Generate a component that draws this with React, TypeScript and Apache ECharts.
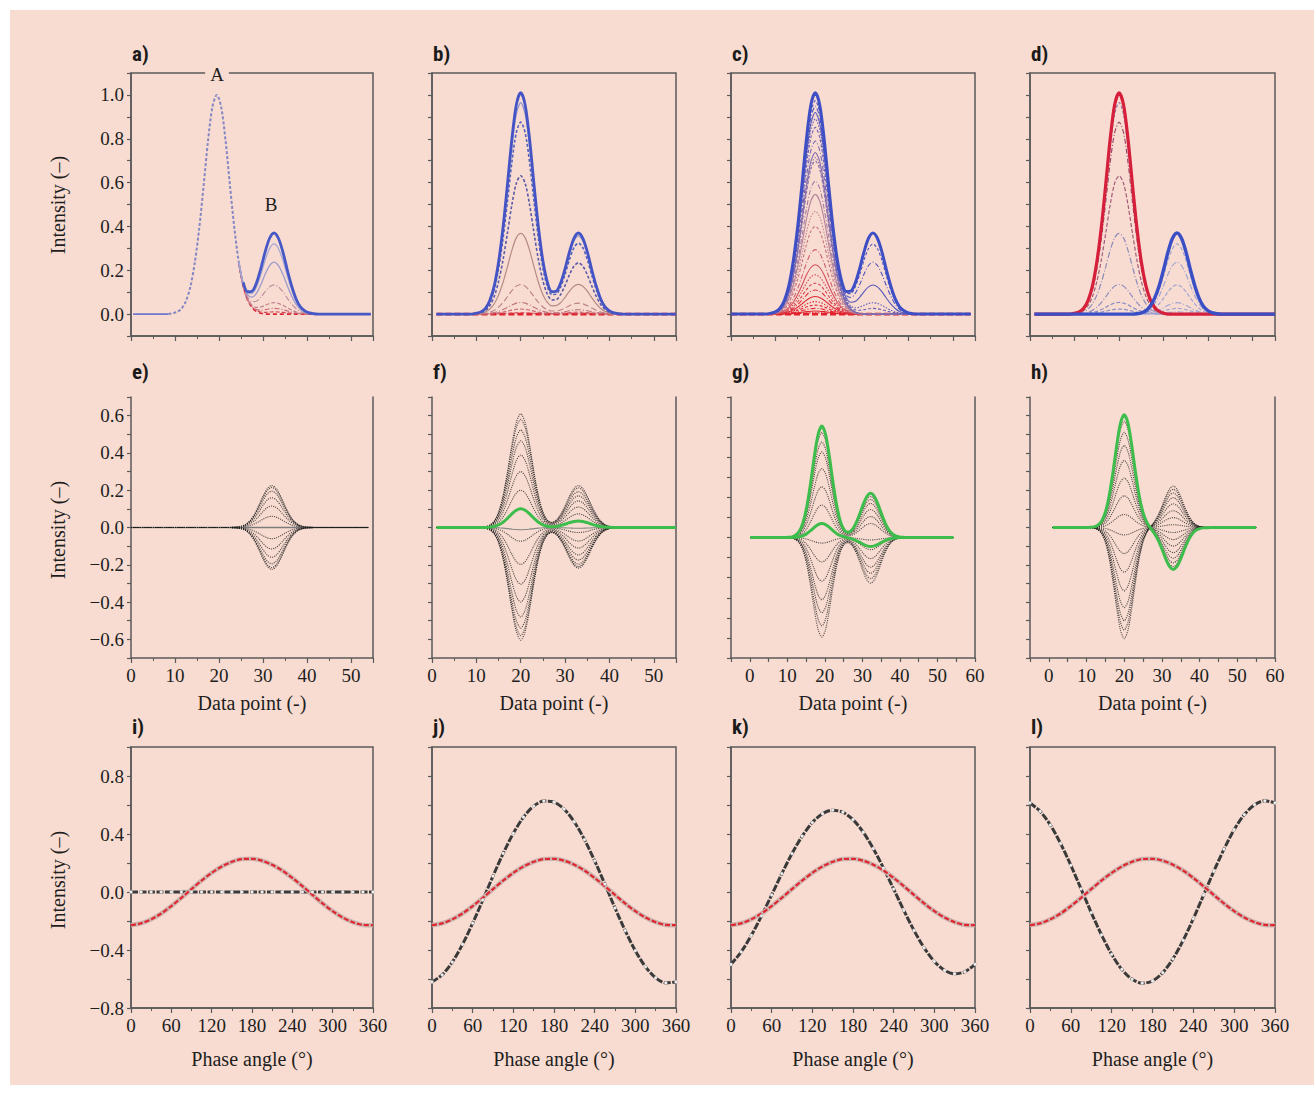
import React, { useEffect, useRef } from "react";
import * as echarts from "echarts";

// ---------------- data ----------------
const DATA_X = [
  1, 2, 3, 4, 5, 6, 7, 8, 9, 10, 11, 12, 13, 14, 15, 16, 17, 18, 19, 20,
  21, 22, 23, 24, 25, 26, 27, 28, 29, 30, 31, 32, 33, 34, 35, 36, 37, 38, 39, 40,
  41, 42, 43, 44, 45, 46, 47, 48, 49, 50, 51, 52, 53, 54, 55,
];
const PHASE = [0, 15, 30, 45, 60, 75, 90, 105, 120, 135, 150, 165, 180, 195, 210, 225, 240, 255, 270, 285, 300, 315, 330, 345, 360];

// normalised peak profiles (top row)
const PEAK_A_TOP = [
  0, 0, 0, 0, 0, 0, 0, 0, 0,
  0.004, 0.01, 0.025, 0.06, 0.125, 0.235, 0.39, 0.585, 0.79, 0.945, 1.0, 0.945, 0.79, 0.585, 0.39, 0.235, 0.13, 0.065, 0.03, 0.012, 0.004,
  0, 0, 0, 0, 0, 0, 0, 0, 0, 0, 0, 0, 0, 0, 0, 0, 0, 0, 0, 0, 0, 0, 0, 0, 0,
];
const PEAK_B_TOP = [
  0, 0, 0, 0, 0, 0, 0, 0, 0, 0, 0, 0, 0, 0, 0, 0, 0, 0, 0, 0, 0, 0, 0,
  0.004, 0.015, 0.04, 0.1, 0.2, 0.35, 0.55, 0.77, 0.935, 1.0, 0.935, 0.77, 0.55, 0.35, 0.19, 0.09, 0.04, 0.014, 0.004,
  0, 0, 0, 0, 0, 0, 0, 0, 0, 0, 0, 0, 0,
];
// normalised peak profiles (dynamic spectra, middle row)
const PEAK_A_MID = [
  0, 0, 0, 0, 0, 0, 0, 0, 0, 0,
  0.002, 0.006, 0.02, 0.056, 0.135, 0.278, 0.487, 0.726, 0.923, 1.0, 0.923, 0.726, 0.487, 0.278, 0.135, 0.056, 0.02, 0.006, 0.002,
  0, 0, 0, 0, 0, 0, 0, 0, 0, 0, 0, 0, 0, 0, 0, 0, 0, 0, 0, 0, 0, 0, 0, 0, 0, 0,
];
const PEAK_B_MID = [
  0, 0, 0, 0, 0, 0, 0, 0, 0, 0, 0, 0, 0, 0, 0, 0, 0, 0, 0, 0, 0, 0, 0,
  0.003, 0.009, 0.027, 0.069, 0.157, 0.306, 0.513, 0.744, 0.929, 1.0, 0.929, 0.744, 0.513, 0.306, 0.157, 0.069, 0.027, 0.009, 0.003,
  0, 0, 0, 0, 0, 0, 0, 0, 0, 0, 0, 0, 0,
];

// a) peak B heights on top of a constant peak A
const A_B_HEIGHTS = [0, 0.01, 0.026, 0.052, 0.133, 0.237, 0.32, 0.37];
// b) both peaks scaled together
const B_A_HEIGHTS = [0, 0.006, 0.023, 0.053, 0.135, 0.368, 0.631, 0.876, 0.965, 1.01];
const B_B_HEIGHTS = [0, 0.002, 0.009, 0.02, 0.05, 0.136, 0.234, 0.324, 0.357, 0.37];
// c) many A steps, few B steps
const C_A_HEIGHTS = [0, 0.006, 0.014, 0.026, 0.041, 0.057, 0.08, 0.11, 0.141, 0.179, 0.225, 0.294, 0.4, 0.469, 0.546, 0.607, 0.699, 0.714, 0.737, 0.79, 0.852, 0.89, 0.92, 0.948, 0.974, 1.01];
const C_B_HEIGHTS = [0, 0, 0, 0, 0, 0, 0, 0, 0, 0, 0, 0, 0, 0, 0, 0, 0, 0, 0, 0, 0.026, 0.052, 0.133, 0.237, 0.32, 0.37];
// d) separate families
const D_A_HEIGHTS = [0.023, 0.053, 0.135, 0.368, 0.631, 0.876, 0.965];
const D_A_MAX = 1.01;
const D_B_HEIGHTS = [0.01, 0.026, 0.052, 0.133, 0.237, 0.32];
const D_B_MAX = 0.37;
// e) – h) dynamic spectra amplitudes
const E_B_AMPS = [0.225, 0.215, 0.195, 0.16, 0.115, 0.06, 0, -0.06, -0.115, -0.16, -0.195, -0.215, -0.225];
const F_A_AMPS = [0.61, 0.58, 0.523, 0.465, 0.389, 0.3, 0.2, -0.012, -0.074, -0.198, -0.304, -0.4, -0.48, -0.54, -0.58, -0.604];
const F_B_AMPS = [0.225, 0.213, 0.192, 0.17, 0.143, 0.11, 0.073, -0.004, -0.027, -0.073, -0.11, -0.147, -0.175, -0.197, -0.21, -0.218];
const F_GREEN = [0.1, 0.035];
const G_A_AMPS = [0.523, 0.476, 0.427, 0.344, 0.253, 0.162, -0.028, -0.122, -0.218, -0.31, -0.375, -0.44, -0.496];
const G_B_AMPS = [0.205, 0.19, 0.17, 0.14, 0.105, 0.07, -0.012, -0.06, -0.105, -0.148, -0.178, -0.205, -0.227];
const G_GREEN_MAIN = [0.556, 0.22];
const G_GREEN_SMALL = [0.07, -0.045];
const H_A_AMPS = [0.57, 0.51, 0.44, 0.36, 0.265, 0.17, 0.07, -0.04, -0.14, -0.24, -0.34, -0.43, -0.5, -0.55, -0.596];
const H_B_AMPS = [-0.21, -0.19, -0.165, -0.135, -0.1, -0.065, -0.027, 0.015, 0.053, 0.09, 0.127, 0.16, 0.185, 0.205, 0.222];
const H_GREEN = [0.605, -0.225];
// i) – l) phase curves
const PHASE_RED = [-0.229, -0.216, -0.188, -0.148, -0.097, -0.04, 0.02, 0.079, 0.132, 0.176, 0.208, 0.227, 0.229, 0.216, 0.188, 0.148, 0.097, 0.04, -0.02, -0.079, -0.132, -0.176, -0.208, -0.227, -0.229];
const PHASE_I = [0, 0, 0, 0, 0, 0, 0, 0, 0, 0, 0, 0, 0, 0, 0, 0, 0, 0, 0, 0, 0, 0, 0, 0, 0];
const PHASE_J = [-0.62, -0.571, -0.483, -0.361, -0.215, -0.055, 0.11, 0.266, 0.405, 0.516, 0.592, 0.627, 0.62, 0.571, 0.483, 0.361, 0.215, 0.055, -0.11, -0.266, -0.405, -0.516, -0.592, -0.627, -0.62];
const PHASE_K = [-0.499, -0.413, -0.299, -0.165, -0.02, 0.127, 0.265, 0.385, 0.479, 0.54, 0.564, 0.55, 0.499, 0.413, 0.299, 0.165, 0.02, -0.127, -0.265, -0.385, -0.479, -0.54, -0.564, -0.55, -0.499];
const PHASE_L = [0.614, 0.556, 0.461, 0.334, 0.184, 0.022, -0.142, -0.295, -0.43, -0.534, -0.602, -0.629, -0.614, -0.556, -0.461, -0.334, -0.184, -0.022, 0.142, 0.295, 0.43, 0.534, 0.602, 0.629, 0.614];
// x offsets of the peak positions per panel a..h
const PANEL_SHIFT = [-0.5, 0, -1, 0, -1, 0, -0.8, 0];

const LETTERS = ["a)", "b)", "c)", "d)", "e)", "f)", "g)", "h)", "i)", "j)", "k)", "l)"];

// ---------------- styling / layout ----------------
const PINK = "#f8dcd1";
const AXIS = "#5a5a5a";
const SERIF = '"Liberation Serif", "Times New Roman", serif';
const SANS = '"Liberation Sans Narrow", "Roboto Condensed", Roboto, "Open Sans", sans-serif';
const COL_LEFT = [131, 432, 731, 1030];
const COL_W = [242, 244, 244, 245];
const ROW_TOP = [73, 397, 747];
const ROW_H = [263, 261, 261];

const combo = (shift: number, aAmp: number, bAmp: number, aProf: number[], bProf: number[], i0 = 0, i1 = 55) => {
  const out: number[][] = [];
  for (let i = i0; i < i1; i++) out.push([DATA_X[i] + shift, +(aAmp * aProf[i] + bAmp * bProf[i]).toFixed(4)]);
  return out;
};

const line = (idx: number, data: any[], color: string, width: number, type: any, extra: any = {}) => ({
  type: "line",
  xAxisIndex: idx,
  yAxisIndex: idx,
  data,
  showSymbol: false,
  smooth: 0.3,
  silent: true,
  lineStyle: { color, width, type },
  ...extra,
});

const mix = (a: number[], b: number[], t: number) =>
  "rgb(" + a.map((v, i) => Math.round(v + (b[i] - v) * t)).join(",") + ")";
const grad = (t: number) => {
  const red = [227, 32, 44], mid = [192, 136, 152], blue = [62, 78, 196];
  return t < 0.5 ? mix(red, mid, t / 0.5) : mix(mid, blue, (t - 0.5) / 0.5);
};

const sgn = (n: number) => (n < 0 ? "\u2212" + Math.abs(n).toFixed(1) : n.toFixed(1));

function buildOption() {
  const grid: any[] = [];
  const xAxis: any[] = [];
  const yAxis: any[] = [];
  const series: any[] = [];
  const graphic: any[] = [];
  const axisLine = { show: true, onZero: false, lineStyle: { color: AXIS, width: 1.5 } };
  const tick = (len: number) => ({ show: true, length: len, lineStyle: { color: AXIS, width: 1.2 } });
  const labelStyle = { fontFamily: SERIF, fontSize: 19, color: "#1e1e1e" };

  for (let p = 0; p < 12; p++) {
    const r = Math.floor(p / 4);
    const c = p % 4;
    grid.push({
      left: COL_LEFT[c],
      top: ROW_TOP[r],
      width: COL_W[c],
      height: ROW_H[r],
      show: r !== 1,
      borderColor: AXIS,
      borderWidth: 1.5,
      backgroundColor: "transparent",
    });
    // x axes
    if (r === 0) {
      xAxis.push({
        gridIndex: p, type: "value", min: 0, max: 55, interval: 10,
        axisLine, axisTick: tick(5), minorTick: { show: true, splitNumber: 2, length: 3, lineStyle: { color: AXIS } },
        axisLabel: { show: false }, splitLine: { show: false },
      });
    } else if (r === 1) {
      if (c < 2) {
        xAxis.push({
          gridIndex: p, type: "value", min: 0, max: 55, interval: 10,
          axisLine, axisTick: tick(5), minorTick: { show: true, splitNumber: 2, length: 3, lineStyle: { color: AXIS } },
          axisLabel: { ...labelStyle, margin: 8, formatter: (v: number) => (v % 10 === 0 && v <= 50 ? String(v) : "") },
          splitLine: { show: false },
        });
      } else {
        xAxis.push({
          gridIndex: p, type: "value", min: -5, max: 60, interval: 5,
          axisLine, axisTick: tick(4),
          axisLabel: { ...labelStyle, margin: 8, formatter: (v: number) => (v >= 0 && v % 10 === 0 ? String(v) : "") },
          splitLine: { show: false },
        });
      }
    } else {
      xAxis.push({
        gridIndex: p, type: "value", min: 0, max: 360, interval: 60,
        axisLine, axisTick: tick(5), minorTick: { show: true, splitNumber: 2, length: 3, lineStyle: { color: AXIS } },
        axisLabel: { ...labelStyle, margin: 8 },
        splitLine: { show: false },
      });
    }
    // y axes
    let ymin = -0.1, ymax = 1.1, yint = 0.1;
    let fmt = (v: number) => {
      const k = Math.round(v * 10);
      return k >= 0 && k <= 10 && k % 2 === 0 ? (k / 10).toFixed(1) : "";
    };
    if (r === 1) {
      ymin = p === 6 ? -0.6 : -0.7; ymax = 0.7; yint = 0.1;
      fmt = (v: number) => {
        const k = Math.round(v * 10);
        return Math.abs(k) <= 6 && k % 2 === 0 ? sgn(k / 10) : "";
      };
    } else if (r === 2) {
      ymin = -0.8; ymax = 1.0; yint = 0.2;
      fmt = (v: number) => {
        const k = Math.round(v * 10);
        return Math.abs(k) <= 8 && k % 4 === 0 ? sgn(k / 10) : "";
      };
    }
    yAxis.push({
      gridIndex: p, type: "value", position: "left", min: ymin, max: ymax, interval: yint,
      axisLine, axisTick: tick(4),
      axisLabel: c === 0 ? { ...labelStyle, margin: 7, formatter: fmt } : { show: false },
      splitLine: { show: false },
    });
    // letters
    const ly = [54, 372, 727][r];
    graphic.push({
      type: "text", x: COL_LEFT[c] + 1, y: ly, z: 100,
      style: { text: LETTERS[p], fontFamily: SANS, fontWeight: "bold", fontSize: 21, fill: "#1a1a1a", verticalAlign: "middle" },
    });
  }
  // right-hand lines of the middle row
  for (let c = 0; c < 4; c++) {
    yAxis.push({
      gridIndex: 4 + c, type: "value", position: "right", min: 0, max: 1,
      axisLine: { show: true, onZero: false, lineStyle: { color: AXIS, width: 1.5 } },
      axisTick: { show: false }, axisLabel: { show: false }, splitLine: { show: false },
    });
  }

  // ---- a)
  {
    const s = PANEL_SHIFT[0];
    series.push(line(0, combo(s, 0, 0, PEAK_A_TOP, PEAK_B_TOP, 0, 9), "#6b77c9", 1.8, "solid"));
    series.push(line(0, combo(s, 1, 0, PEAK_A_TOP, PEAK_B_TOP, 8, 27), "#8487c4", 2, [3, 2]));
    const st = [
      ["#dc2432", 1.6, [4, 3]], ["#d2485a", 1.2, [4, 2]], ["#c8687a", 1.2, [5, 2, 1, 2]], ["#c2808e", 1.2, [4, 2]],
      ["#c0929e", 1.2, [6, 2, 1, 2]], ["#9c9ccc", 1.3, "solid"], ["#a3a8d6", 1.3, "solid"], ["#4657c6", 2.8, "solid"],
    ];
    A_B_HEIGHTS.forEach((h, k) => {
      const start = k === A_B_HEIGHTS.length - 1 ? 25 : 24;
      series.push(line(0, combo(s, 1, h, PEAK_A_TOP, PEAK_B_TOP, start, 55), st[k][0] as string, st[k][1] as number, st[k][2]));
    });
  }
  // ---- b)
  {
    const s = PANEL_SHIFT[1];
    const st = [
      ["#e1202c", 2.6, [6, 3]], ["#d24454", 1.1, [4, 2]], ["#c86272", 1.1, [4, 2]], ["#bf7482", 1.1, [6, 2, 1, 2]],
      ["#bb8088", 1.1, [6, 3]], ["#b48a86", 1.2, "solid"], ["#5a5aa8", 1.6, [3, 2]], ["#5060bc", 1.6, [3, 2]],
      ["#8a92d2", 1.3, "solid"], ["#4454c4", 2.8, "solid"],
    ];
    B_A_HEIGHTS.forEach((a, k) => {
      series.push(line(1, combo(s, a, B_B_HEIGHTS[k], PEAK_A_TOP, PEAK_B_TOP), st[k][0] as string, st[k][1] as number, st[k][2]));
    });
  }
  // ---- c)
  {
    const s = PANEL_SHIFT[2];
    const types: any[] = [[3, 2], [1.5, 1.5], "solid", [5, 2, 1, 2]];
    const n = C_A_HEIGHTS.length;
    C_A_HEIGHTS.forEach((a, k) => {
      const last = k === n - 1;
      const first = k === 0;
      series.push(line(2, combo(s, a, C_B_HEIGHTS[k], PEAK_A_TOP, PEAK_B_TOP),
        last ? "#3e4ec4" : grad(a / 1.01), last ? 3 : first ? 2.6 : 1.1, last ? "solid" : first ? [6, 3] : types[k % 4]));
    });
  }
  // ---- d)
  {
    const s = PANEL_SHIFT[3];
    const ac = ["#8e92c6", "#8c8fc2", "#8f8cbe", "#8e8ab8", "#a25a7a", "#9a4a6a", "#8a7cb4"];
    const at: any[] = [[4, 2], [4, 2], [6, 2, 1, 2], [6, 2, 1, 2], [4, 2], [5, 2, 1, 2], [3, 2]];
    D_A_HEIGHTS.forEach((a, k) => series.push(line(3, combo(s, a, 0, PEAK_A_TOP, PEAK_B_TOP), ac[k], 1.2, at[k])));
    D_B_HEIGHTS.forEach((b, k) => series.push(line(3, combo(s, 0, b, PEAK_A_TOP, PEAK_B_TOP), "#a2a6d2", 1.2, k % 2 ? [4, 2] : [6, 2, 1, 2])));
    series.push(line(3, combo(s, D_A_MAX, 0, PEAK_A_TOP, PEAK_B_TOP), "#d51f3b", 3.2, "solid"));
    series.push(line(3, combo(s, 0, D_B_MAX, PEAK_A_TOP, PEAK_B_TOP), "#3a4ec6", 3.4, "solid"));
  }
  const black = "rgba(25,25,25,0.75)";
  const GREEN = "#3dbd4c";
  // ---- e)
  {
    const s = PANEL_SHIFT[4];
    E_B_AMPS.forEach((b) => {
      const flat = Math.abs(b) < 0.02;
      series.push(line(4, combo(s, 0, b, PEAK_A_MID, PEAK_B_MID), flat ? "#7c7c7c" : black, flat ? 1.6 : 1.1, flat ? "solid" : "dotted"));
    });
  }
  // ---- f)
  {
    const s = PANEL_SHIFT[5];
    F_A_AMPS.forEach((a, k) => {
      const flat = Math.abs(a) < 0.02;
      series.push(line(5, combo(s, a, F_B_AMPS[k], PEAK_A_MID, PEAK_B_MID), flat ? "#8a8a8a" : black, 1.1, flat ? "solid" : "dotted"));
    });
    series.push(line(5, combo(s, F_GREEN[0], F_GREEN[1], PEAK_A_MID, PEAK_B_MID), GREEN, 3, "solid"));
  }
  // ---- g)
  {
    const s = PANEL_SHIFT[6];
    G_A_AMPS.forEach((a, k) => series.push(line(6, combo(s, a, G_B_AMPS[k], PEAK_A_MID, PEAK_B_MID), black, 1.1, "dotted")));
    series.push(line(6, combo(s, G_GREEN_SMALL[0], G_GREEN_SMALL[1], PEAK_A_MID, PEAK_B_MID), GREEN, 3, "solid"));
    series.push(line(6, combo(s, G_GREEN_MAIN[0], G_GREEN_MAIN[1], PEAK_A_MID, PEAK_B_MID), GREEN, 3, "solid"));
  }
  // ---- h)
  {
    const s = PANEL_SHIFT[7];
    H_A_AMPS.forEach((a, k) => series.push(line(7, combo(s, a, H_B_AMPS[k], PEAK_A_MID, PEAK_B_MID), black, 1.1, "dotted")));
    series.push(line(7, combo(s, H_GREEN[0], H_GREEN[1], PEAK_A_MID, PEAK_B_MID), GREEN, 3, "solid"));
  }
  // ---- i) - l)
  [PHASE_I, PHASE_J, PHASE_K, PHASE_L].forEach((arr, c) => {
    const idx = 8 + c;
    const pts = PHASE.map((ph, i) => [ph, arr[i]]);
    const red = PHASE.map((ph, i) => [ph, PHASE_RED[i]]);
    series.push(line(idx, pts, "#3a3a3a", 3, [7, 1.5], {
      showSymbol: true, symbol: "circle", symbolSize: 3.2,
      itemStyle: { color: "#f2f2f2", borderColor: "#9a9a9a", borderWidth: 0.4 },
    }));
    series.push(line(idx, red, "#cdb6b1", 4.6, "solid"));
    series.push(line(idx, red, "#e0262e", 2.2, [5, 2]));
  });

  // axis titles
  [205, 530, 880].forEach((cy) =>
    graphic.push({
      type: "text", x: 58, y: cy, rotation: Math.PI / 2, z: 100,
      style: { text: "Intensity (\u2013)", fontFamily: SERIF, fontSize: 20, fill: "#1e1e1e", align: "center", verticalAlign: "middle" },
    })
  );
  for (let c = 0; c < 4; c++) {
    const cx = COL_LEFT[c] + COL_W[c] / 2;
    graphic.push({
      type: "text", x: cx, y: 703, z: 100,
      style: { text: "Data point (-)", fontFamily: SERIF, fontSize: 20, fill: "#1e1e1e", align: "center", verticalAlign: "middle" },
    });
    graphic.push({
      type: "text", x: cx, y: 1059, z: 100,
      style: { text: "Phase angle (\u00b0)", fontFamily: SERIF, fontSize: 20, fill: "#1e1e1e", align: "center", verticalAlign: "middle" },
    });
  }
  graphic.push({
    type: "text", x: 217, y: 74, z: 100,
    style: { text: "A", fontFamily: SERIF, fontSize: 19, fill: "#1e1e1e", align: "center", verticalAlign: "middle", backgroundColor: PINK, padding: [2, 5] },
  });
  graphic.push({
    type: "text", x: 271, y: 204, z: 100,
    style: { text: "B", fontFamily: SERIF, fontSize: 19, fill: "#1e1e1e", align: "center", verticalAlign: "middle" },
  });

  return { animation: false, backgroundColor: "transparent", grid, xAxis, yAxis, series, graphic };
}

export default function App() {
  const ref = useRef<HTMLDivElement>(null);
  useEffect(() => {
    document.body.style.margin = "0";
    const chart = echarts.init(ref.current as HTMLDivElement, undefined, { renderer: "svg" });
    chart.setOption(buildOption() as any);
    return () => chart.dispose();
  }, []);
  return (
    <div style={{ position: "relative", width: 1314, height: 1094, background: "#ffffff", overflow: "hidden" }}>
      <div style={{ position: "absolute", left: 10, top: 10, width: 1304, height: 1075, background: PINK }} />
      <div ref={ref} style={{ position: "absolute", left: 0, top: 0, width: 1314, height: 1094 }} />
    </div>
  );
}
